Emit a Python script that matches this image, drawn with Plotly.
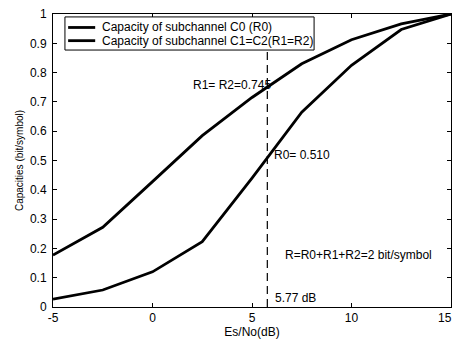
import plotly.graph_objects as go

snr_db = [-5, -2.5, 0, 2.5, 5, 7.5, 10, 12.5, 15]
cap_c0 = [0.027, 0.058, 0.12, 0.223, 0.44, 0.665, 0.825, 0.947, 1.0]
cap_c12 = [0.177, 0.272, 0.428, 0.585, 0.715, 0.83, 0.912, 0.966, 1.0]
series_names = ["Capacity of subchannel C0 (R0)", "Capacity of subchannel C1=C2(R1=R2)"]
threshold_db = 5.77
dash_y = [0, 0.91]
x_ticks = [-5, 0, 5, 10, 15]
x_tick_text = ["-5", "0", "5", "10", ""]   # "15" is placed as an annotation so it stays inside the page
y_ticks = [0, 0.1, 0.2, 0.3, 0.4, 0.5, 0.6, 0.7, 0.8, 0.9, 1]
y_tick_text = ["0", "0.1", "0.2", "0.3", "0.4", "0.5", "0.6", "0.7", "0.8", "0.9", "1"]

FONT = "Liberation Sans, Arial, sans-serif"

fig = go.Figure()
for yv, nm in zip([cap_c0, cap_c12], series_names):
    fig.add_trace(go.Scatter(x=snr_db, y=yv, mode="lines",
                             line=dict(color="black", width=2.8),
                             name=nm, showlegend=False))
fig.add_trace(go.Scatter(x=[threshold_db, threshold_db], y=dash_y, mode="lines",
                         line=dict(color="black", width=1.2, dash="8px,5px"),
                         showlegend=False, hoverinfo="skip"))

annos = [
    dict(x=6.06, y=0.758, text="R1= R2=0.745", xanchor="right", yanchor="middle"),
    dict(x=6.0, y=0.519, text="R0= 0.510", xanchor="left", yanchor="middle"),
    dict(x=6.56, y=0.177, text="R=R0+R1+R2=2 bit/symbol", xanchor="left", yanchor="middle"),
    dict(x=6.06, y=0.031, text="5.77 dB", xanchor="left", yanchor="middle"),
]
for a in annos:
    fig.add_annotation(showarrow=False, font=dict(family=FONT, size=12, color="black"), **a)

# last x tick label, kept inside the page edge
fig.add_annotation(x=x_ticks[-1], y=0, xref="x", yref="paper", text=str(x_ticks[-1]),
                   showarrow=False, xanchor="right", yanchor="top", xshift=3, yshift=-2,
                   font=dict(family=FONT, size=12, color="black"))

# Legend box drawn manually to match the original's compact layout
fig.add_shape(type="rect", xref="paper", yref="paper", x0=0.030, x1=0.656, y0=0.877, y1=0.99,
              line=dict(color="black", width=1), fillcolor="white", layer="above")
for nm, ly in zip(series_names, [0.954, 0.909]):
    fig.add_shape(type="line", xref="paper", yref="paper", x0=0.038, x1=0.106, y0=ly, y1=ly,
                  line=dict(color="black", width=2.8), layer="above")
    fig.add_annotation(xref="paper", yref="paper", x=0.118, y=ly, text=nm, showarrow=False,
                       xanchor="left", yanchor="middle",
                       font=dict(family=FONT, size=12, color="black"))

axis_common = dict(showline=True, linecolor="black", linewidth=1, mirror="ticks",
                   ticks="inside", ticklen=4, tickcolor="black", showgrid=False,
                   zeroline=False, tickfont=dict(family=FONT, size=12, color="black"),
                   ticklabeloverflow="allow", automargin=False)

fig.update_xaxes(range=[-5, 15], tickvals=x_ticks, ticktext=x_tick_text,
                 title=dict(text="Es/No(dB)", font=dict(family=FONT, size=12, color="black"), standoff=2),
                 **axis_common)
fig.update_yaxes(range=[0, 1], tickvals=y_ticks, ticktext=y_tick_text, ticklabelstandoff=3,
                 title=dict(text="Capacities (bit/symbol)", font=dict(family=FONT, size=10, color="black"), standoff=4),
                 **axis_common)

fig.update_layout(
    width=454, height=343,
    margin=dict(l=53, r=3, t=14, b=36),
    paper_bgcolor="white", plot_bgcolor="white",
    font=dict(family=FONT, size=12, color="black"),
    showlegend=False,
)

fig.write_html("out.html")
